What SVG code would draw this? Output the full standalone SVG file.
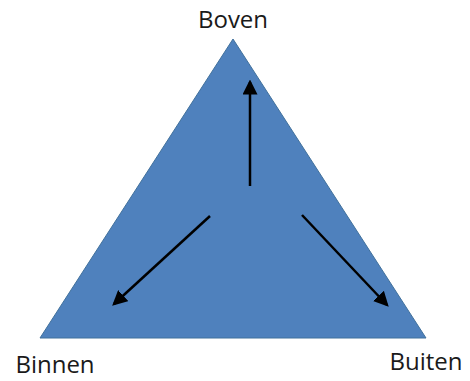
<svg xmlns="http://www.w3.org/2000/svg" width="470" height="381" viewBox="0 0 470 381">
<style>
.lbl{font-family:"Open Sans","Liberation Sans",sans-serif;font-size:24px;fill:#1a1a1a}
.arr{stroke:#000;stroke-width:2.5;fill:none;marker-end:url(#ah)}
</style>
<defs>
<marker id="ah" markerWidth="6" markerHeight="6" refX="5" refY="3" orient="auto" markerUnits="strokeWidth">
<path d="M0,0 L6,3 L0,6 Z" fill="#000"/>
</marker>
</defs>
<rect width="470" height="381" fill="#fff"/>
<g id="triangle">
<polygon points="233,39 40,338 426,338" fill="#4F81BD" stroke="#41719C" stroke-width="1"/>
</g>
<g id="labels">
<text class="lbl" x="55" y="373" text-anchor="middle">Binnen</text>
<text class="lbl" x="233" y="28" text-anchor="middle">Boven</text>
<text class="lbl" x="426" y="370" text-anchor="middle">Buiten</text>
</g>
<g id="connectors">
<line class="arr" x1="250" y1="186" x2="250" y2="82"/>
<line class="arr" x1="210" y1="216" x2="114" y2="304"/>
<line class="arr" x1="302" y1="215" x2="387" y2="305"/>
</g>
</svg>
